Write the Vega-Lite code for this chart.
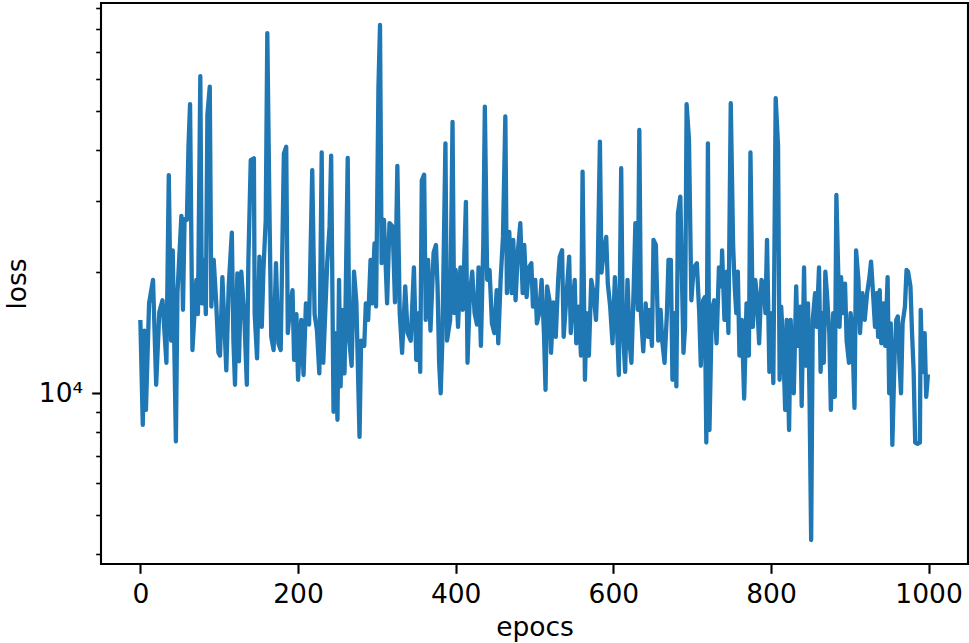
{
  "$schema": "https://vega.github.io/schema/vega-lite/v6.json",
  "width": 867,
  "height": 561,
  "autosize": {"type": "none"},
  "padding": {"left": 101, "top": 3, "right": 1, "bottom": 79},
  "background": "white",
  "config": {
    "view": {"stroke": "#000000", "strokeWidth": 2.1},
    "axis": {
      "grid": false,
      "domain": false,
      "tickColor": "#000000",
      "labelColor": "#000000",
      "titleColor": "#000000",
      "labelFont": "DejaVu Sans",
      "titleFont": "DejaVu Sans",
      "labelFontSize": 26.5,
      "titleFontSize": 26.5,
      "titleFontWeight": "normal"
    }
  },
  "data": {"values": [
    {"epoch":0,"loss":15000},{"epoch":3,"loss":8350},{"epoch":5,"loss":14300},{"epoch":7,"loss":9100},{"epoch":11,"loss":16700},{"epoch":16,"loss":19100},{"epoch":20,"loss":10500},{"epoch":24,"loss":15900},{"epoch":28,"loss":17000},{"epoch":33,"loss":11900},{"epoch":36,"loss":34700},{"epoch":39,"loss":13500},{"epoch":41,"loss":22600},{"epoch":45,"loss":7600},{"epoch":47,"loss":17700},{"epoch":52,"loss":27500},{"epoch":54,"loss":16100},{"epoch":56,"loss":27000},{"epoch":59,"loss":26900},{"epoch":61,"loss":41000},{"epoch":63,"loss":52000},{"epoch":66,"loss":12800},{"epoch":71,"loss":19100},{"epoch":73,"loss":15700},{"epoch":76,"loss":61000},{"epoch":78,"loss":16700},{"epoch":81,"loss":21400},{"epoch":83,"loss":15700},{"epoch":85,"loss":49000},{"epoch":88,"loss":57500},{"epoch":90,"loss":16400},{"epoch":93,"loss":21400},{"epoch":96,"loss":17000},{"epoch":99,"loss":12600},
    {"epoch":101,"loss":12400},{"epoch":104,"loss":19400},{"epoch":109,"loss":11400},{"epoch":112,"loss":18400},{"epoch":116,"loss":25000},{"epoch":118,"loss":13500},{"epoch":120,"loss":10500},{"epoch":123,"loss":19800},{"epoch":125,"loss":12000},{"epoch":128,"loss":20000},{"epoch":132,"loss":15200},{"epoch":135,"loss":10500},{"epoch":137,"loss":21400},{"epoch":140,"loss":37800},{"epoch":144,"loss":38200},{"epoch":145,"loss":15700},{"epoch":148,"loss":12200},{"epoch":151,"loss":21800},{"epoch":154,"loss":14600},{"epoch":156,"loss":20000},{"epoch":159,"loss":26900},{"epoch":161,"loss":78000},{"epoch":164,"loss":25900},{"epoch":166,"loss":13800},{"epoch":169,"loss":12800},{"epoch":172,"loss":21000},{"epoch":175,"loss":13300},{"epoch":178,"loss":12800},{"epoch":182,"loss":39200},{"epoch":185,"loss":40800},{"epoch":187,"loss":14100},{"epoch":190,"loss":16400},{"epoch":193,"loss":18000},{"epoch":195,"loss":12100},{"epoch":198,"loss":15700},
    {"epoch":200,"loss":10800},{"epoch":204,"loss":15200},{"epoch":207,"loss":11100},{"epoch":210,"loss":16700},{"epoch":214,"loss":14800},{"epoch":218,"loss":35700},{"epoch":221,"loss":15700},{"epoch":224,"loss":14300},{"epoch":227,"loss":11200},{"epoch":230,"loss":39500},{"epoch":232,"loss":11900},{"epoch":237,"loss":21000},{"epoch":240,"loss":25900},{"epoch":242,"loss":38800},{"epoch":245,"loss":9000},{"epoch":247,"loss":14100},{"epoch":250,"loss":8600},{"epoch":252,"loss":19100},{"epoch":254,"loss":10400},{"epoch":256,"loss":16100},{"epoch":259,"loss":11200},{"epoch":263,"loss":38300},{"epoch":265,"loss":13500},{"epoch":268,"loss":11700},{"epoch":271,"loss":20000},{"epoch":274,"loss":16800},{"epoch":278,"loss":7800},{"epoch":280,"loss":13500},{"epoch":284,"loss":13100},{"epoch":286,"loss":16700},{"epoch":289,"loss":15200},{"epoch":292,"loss":21400},{"epoch":294,"loss":16700},{"epoch":297,"loss":23500},{"epoch":299,"loss":16400},
    {"epoch":302,"loss":57300},{"epoch":304,"loss":81700},{"epoch":306,"loss":21000},{"epoch":309,"loss":26900},{"epoch":313,"loss":16700},{"epoch":316,"loss":26400},{"epoch":320,"loss":25900},{"epoch":323,"loss":16800},{"epoch":326,"loss":36600},{"epoch":329,"loss":15800},{"epoch":332,"loss":12600},{"epoch":336,"loss":18400},{"epoch":339,"loss":14100},{"epoch":343,"loss":13500},{"epoch":347,"loss":20500},{"epoch":350,"loss":12100},{"epoch":353,"loss":15800},{"epoch":355,"loss":11300},{"epoch":357,"loss":33700},{"epoch":360,"loss":34800},{"epoch":362,"loss":15200},{"epoch":365,"loss":21400},{"epoch":368,"loss":14300},{"epoch":372,"loss":22300},{"epoch":375,"loss":23300},{"epoch":377,"loss":18400},{"epoch":379,"loss":11900},{"epoch":381,"loss":10000},{"epoch":383,"loss":13300},{"epoch":387,"loss":41600},{"epoch":389,"loss":13500},{"epoch":393,"loss":15200},{"epoch":396,"loss":47000},{"epoch":398,"loss":15800},
    {"epoch":400,"loss":20200},{"epoch":403,"loss":14600},{"epoch":406,"loss":20500},{"epoch":409,"loss":16100},{"epoch":413,"loss":29800},{"epoch":415,"loss":11900},{"epoch":418,"loss":17700},{"epoch":421,"loss":20000},{"epoch":424,"loss":15800},{"epoch":427,"loss":14800},{"epoch":429,"loss":20500},{"epoch":432,"loss":13100},{"epoch":435,"loss":23300},{"epoch":437,"loss":51300},{"epoch":440,"loss":19100},{"epoch":443,"loss":20200},{"epoch":446,"loss":14900},{"epoch":449,"loss":14100},{"epoch":452,"loss":18000},{"epoch":454,"loss":13300},{"epoch":457,"loss":19100},{"epoch":460,"loss":24400},{"epoch":463,"loss":48500},{"epoch":465,"loss":17700},{"epoch":468,"loss":25100},{"epoch":471,"loss":17700},{"epoch":473,"loss":24000},{"epoch":476,"loss":17000},{"epoch":479,"loss":22600},{"epoch":482,"loss":26400},{"epoch":485,"loss":17700},{"epoch":487,"loss":23300},{"epoch":490,"loss":17300},{"epoch":493,"loss":20500},{"epoch":496,"loss":21000},{"epoch":498,"loss":16400},
    {"epoch":501,"loss":19100},{"epoch":503,"loss":14900},{"epoch":506,"loss":15800},{"epoch":509,"loss":19100},{"epoch":512,"loss":14100},{"epoch":514,"loss":10200},{"epoch":516,"loss":18400},{"epoch":519,"loss":17000},{"epoch":521,"loss":12600},{"epoch":524,"loss":16800},{"epoch":527,"loss":13800},{"epoch":530,"loss":19100},{"epoch":532,"loss":21800},{"epoch":535,"loss":22600},{"epoch":537,"loss":13800},{"epoch":540,"loss":16800},{"epoch":544,"loss":21800},{"epoch":546,"loss":14100},{"epoch":548,"loss":16400},{"epoch":551,"loss":19100},{"epoch":553,"loss":13300},{"epoch":556,"loss":16400},{"epoch":559,"loss":12400},{"epoch":561,"loss":35400},{"epoch":564,"loss":10800},{"epoch":566,"loss":15800},{"epoch":569,"loss":12400},{"epoch":572,"loss":19100},{"epoch":575,"loss":17700},{"epoch":578,"loss":15200},{"epoch":580,"loss":19100},{"epoch":583,"loss":42000},{"epoch":585,"loss":19900},{"epoch":588,"loss":22600},{"epoch":591,"loss":24400},{"epoch":593,"loss":18700},{"epoch":596,"loss":16400},{"epoch":599,"loss":13300},
    {"epoch":602,"loss":19400},{"epoch":604,"loss":15800},{"epoch":607,"loss":11100},{"epoch":610,"loss":36100},{"epoch":612,"loss":14600},{"epoch":615,"loss":11300},{"epoch":618,"loss":19100},{"epoch":621,"loss":13100},{"epoch":623,"loss":11900},{"epoch":626,"loss":18700},{"epoch":628,"loss":26400},{"epoch":631,"loss":16100},{"epoch":633,"loss":44900},{"epoch":635,"loss":15800},{"epoch":638,"loss":12700},{"epoch":641,"loss":16700},{"epoch":644,"loss":13800},{"epoch":646,"loss":16100},{"epoch":649,"loss":13100},{"epoch":651,"loss":24000},{"epoch":654,"loss":23300},{"epoch":657,"loss":13500},{"epoch":660,"loss":16100},{"epoch":662,"loss":13500},{"epoch":665,"loss":11900},{"epoch":668,"loss":15800},{"epoch":670,"loss":21400},{"epoch":673,"loss":21400},{"epoch":675,"loss":10800},{"epoch":678,"loss":15800},{"epoch":680,"loss":10400},{"epoch":682,"loss":27900},{"epoch":685,"loss":30700},{"epoch":689,"loss":12600},{"epoch":691,"loss":14600},{"epoch":693,"loss":52000},{"epoch":696,"loss":42400},{"epoch":699,"loss":17000},
    {"epoch":702,"loss":20500},{"epoch":706,"loss":21000},{"epoch":709,"loss":15800},{"epoch":711,"loss":11700},{"epoch":714,"loss":17000},{"epoch":716,"loss":17300},{"epoch":718,"loss":7550},{"epoch":720,"loss":41600},{"epoch":722,"loss":8110},{"epoch":725,"loss":16100},{"epoch":728,"loss":17000},{"epoch":731,"loss":13300},{"epoch":734,"loss":20500},{"epoch":737,"loss":18400},{"epoch":738,"loss":22600},{"epoch":741,"loss":15200},{"epoch":744,"loss":20000},{"epoch":746,"loss":14100},{"epoch":749,"loss":52300},{"epoch":752,"loss":23300},{"epoch":754,"loss":18400},{"epoch":756,"loss":15800},{"epoch":758,"loss":20000},{"epoch":760,"loss":12400},{"epoch":763,"loss":15200},{"epoch":766,"loss":9700},{"epoch":769,"loss":16700},{"epoch":772,"loss":12400},{"epoch":774,"loss":39500},{"epoch":777,"loss":14600},{"epoch":780,"loss":19100},{"epoch":782,"loss":17700},{"epoch":785,"loss":13300},{"epoch":788,"loss":19100},{"epoch":791,"loss":18400},{"epoch":793,"loss":15800},{"epoch":795,"loss":24000},{"epoch":798,"loss":11300},
    {"epoch":801,"loss":15800},{"epoch":803,"loss":10600},{"epoch":806,"loss":53800},{"epoch":809,"loss":41000},{"epoch":811,"loss":10800},{"epoch":813,"loss":16400},{"epoch":816,"loss":12400},{"epoch":818,"loss":9100},{"epoch":820,"loss":15200},{"epoch":823,"loss":8110},{"epoch":825,"loss":15200},{"epoch":829,"loss":10000},{"epoch":832,"loss":18400},{"epoch":834,"loss":13100},{"epoch":837,"loss":16400},{"epoch":839,"loss":9300},{"epoch":842,"loss":20500},{"epoch":844,"loss":11700},{"epoch":847,"loss":16700},{"epoch":849,"loss":9600},{"epoch":851,"loss":4330},{"epoch":853,"loss":15200},{"epoch":856,"loss":17700},{"epoch":858,"loss":14600},{"epoch":861,"loss":20500},{"epoch":863,"loss":11300},{"epoch":865,"loss":15800},{"epoch":867,"loss":11900},{"epoch":869,"loss":20000},{"epoch":871,"loss":17700},{"epoch":874,"loss":14100},{"epoch":876,"loss":9100},{"epoch":879,"loss":15800},{"epoch":881,"loss":9800},{"epoch":883,"loss":31000},{"epoch":887,"loss":14600},{"epoch":889,"loss":19400},{"epoch":891,"loss":15800},{"epoch":894,"loss":18700},{"epoch":896,"loss":13500},{"epoch":899,"loss":11900},
    {"epoch":901,"loss":15800},{"epoch":903,"loss":14600},{"epoch":906,"loss":9200},{"epoch":908,"loss":22600},{"epoch":911,"loss":19100},{"epoch":913,"loss":14100},{"epoch":916,"loss":17700},{"epoch":919,"loss":15200},{"epoch":922,"loss":17700},{"epoch":925,"loss":19400},{"epoch":927,"loss":21200},{"epoch":929,"loss":18400},{"epoch":932,"loss":14600},{"epoch":934,"loss":17700},{"epoch":936,"loss":13800},{"epoch":938,"loss":18000},{"epoch":940,"loss":13300},{"epoch":943,"loss":16700},{"epoch":945,"loss":13100},{"epoch":948,"loss":19400},{"epoch":950,"loss":10000},{"epoch":952,"loss":14900},{"epoch":954,"loss":7450},{"epoch":957,"loss":12600},{"epoch":959,"loss":15200},{"epoch":961,"loss":15500},{"epoch":963,"loss":11900},{"epoch":965,"loss":10000},{"epoch":967,"loss":14900},{"epoch":970,"loss":16400},{"epoch":972,"loss":20200},{"epoch":974,"loss":20000},{"epoch":977,"loss":18400},{"epoch":979,"loss":14100},{"epoch":981,"loss":11400},{"epoch":983,"loss":7550},{"epoch":986,"loss":7500},{"epoch":989,"loss":7550},{"epoch":990,"loss":16100},{"epoch":992,"loss":11300},{"epoch":995,"loss":14100},{"epoch":997,"loss":9800},{"epoch":999,"loss":11000}
  ]},
  "mark": {"type": "line", "color": "#1f77b4", "strokeWidth": 4.3, "strokeJoin": "round", "strokeCap": "square"},
  "encoding": {
    "x": {
      "field": "epoch",
      "type": "quantitative",
      "scale": {"domain": [-50, 1050], "nice": false, "zero": false},
      "axis": {
        "title": "epocs",
        "values": [0, 200, 400, 600, 800, 1000],
        "format": "d",
        "tickSize": 9.3,
        "tickWidth": 2.1,
        "labelPadding": 8,
        "titlePadding": 7,
        "labelFlush": false
      }
    },
    "y": {
      "field": "loss",
      "type": "quantitative",
      "scale": {"type": "log", "domain": [3778, 92600], "nice": false, "zero": false},
      "axis": {
        "title": "loss",
        "values": [4000, 5000, 6000, 7000, 8000, 9000, 10000, 20000, 30000, 40000, 50000, 60000, 70000, 80000, 90000],
        "labelExpr": "datum.value == 10000 ? '10⁴' : ''",
        "labelOverlap": false,
        "labelFlush": false,
        "labelPadding": 9,
        "titlePadding": 7,
        "tickSize": {"condition": {"test": "datum.value == 10000", "value": 9.3}, "value": 5.3},
        "tickWidth": {"condition": {"test": "datum.value == 10000", "value": 2.1}, "value": 1.6}
      }
    }
  }
}
